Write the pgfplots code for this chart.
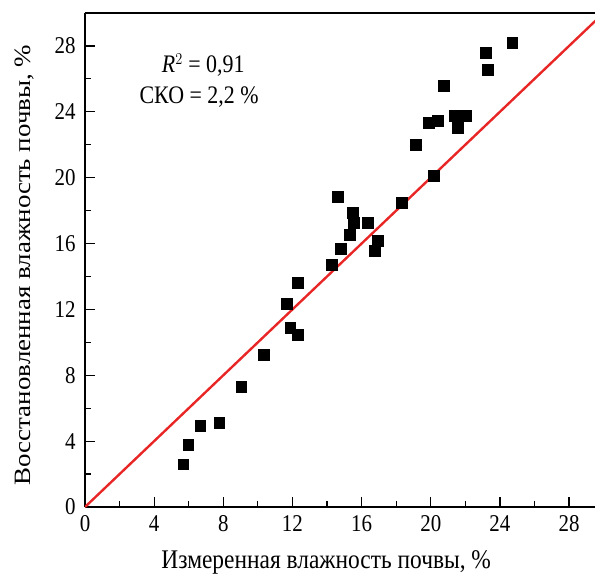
\documentclass[border=0pt]{standalone}
\usepackage{pgfplots}
\pgfplotsset{compat=1.18}
\usepackage{graphicx}
\usepackage{fontspec}
\setmainfont{Liberation Serif}
\definecolor{fitred}{RGB}{232,38,38}
\newcommand{\tall}[1]{\scalebox{1}[1.15]{#1}}
\begin{document}
\begin{tikzpicture}
\begin{axis}[
  scale only axis,
  width=510bp, height=494bp,
  xmin=0, xmax=29.5, ymin=0, ymax=30,
  axis x line*=box, axis y line*=left,
  axis line style={line width=1.5pt},
  xtick={0,4,...,28}, ytick={0,4,...,28},
  minor xtick={2,6,...,30}, minor ytick={2,6,...,30},
  xtick pos=left, ytick pos=left,
  tick align=inside,
  major tick length=10bp, minor tick length=6bp,
  every tick/.style={black, line width=1.2pt},
  tick label style={font=\fontsize{21}{24}\selectfont},
  xticklabel={\tall{\pgfmathprintnumber[assume math mode=true]{\tick}}},
  yticklabel={\tall{\pgfmathprintnumber[assume math mode=true]{\tick}}},
  xticklabel style={yshift=-5bp},
  yticklabel style={xshift=-6bp},
  xlabel={\tall{Измеренная влажность почвы, \%}},
  ylabel={\scalebox{1.15}[1]{Восстановленная влажность почвы, \%}},
  label style={font=\fontsize{23.5}{26}\selectfont},
  xlabel style={at={(axis description cs:0.473,-0.113)}, anchor=center},
  ylabel style={at={(axis description cs:-0.118,0.49)}, anchor=center},
  clip=true,
]
\addplot[fitred, line width=2.4pt] coordinates {(0,0) (30,30)};
\addplot[only marks, mark=square*, mark size=5.3bp, mark options={fill=black, draw=black}] coordinates {
(5.68,2.61) (5.97,3.77) (6.67,4.92) (7.77,5.11) (9.04,7.29) (10.32,9.24)
(11.65,12.34) (11.88,10.88) (12.29,10.46) (12.29,13.62) (14.26,14.71)
(14.61,18.84) (14.78,15.68) (15.30,16.53) (15.48,17.87) (15.54,17.26)
(16.35,17.26) (16.75,15.56) (16.93,16.17) (18.32,18.48) (19.13,22.0)
(19.88,23.34) (20.17,20.12) (20.41,23.47) (20.75,25.59) (21.39,23.77)
(21.57,23.04) (21.80,23.77) (22.03,23.77) (23.19,27.6) (23.30,26.57)
(24.70,28.2)
};
\node[font=\fontsize{22}{25}\selectfont, anchor=center] at (axis cs:6.84,26.84) {\tall{$\mathit{R}^2$ = 0,91}};
\node[font=\fontsize{22}{25}\selectfont, anchor=center] at (axis cs:6.6,24.9) {\tall{СКО = 2,2 \%}};
\coordinate (O) at (axis cs:0,0);
\coordinate (TR) at (rel axis cs:1,1);
\end{axis}
\pgfresetboundingbox
\path[use as bounding box] ([xshift=-85bp,yshift=-69bp]O) rectangle ([yshift=13bp]TR);
\end{tikzpicture}
\end{document}
